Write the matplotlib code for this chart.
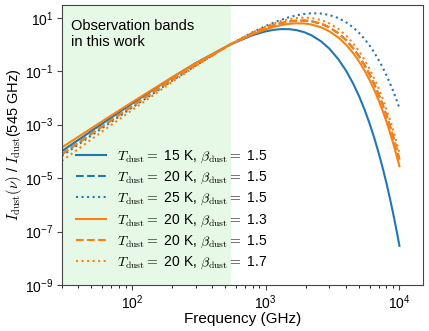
import numpy as np
import matplotlib
matplotlib.use('Agg')
from matplotlib import pyplot as plt

plt.rcParams['mathtext.fontset'] = 'cm'
plt.rcParams['font.family'] = ['Liberation Sans', 'DejaVu Sans']

# frequencies (GHz) and log10 of the normalised intensity
freq = [30, 60, 100, 200, 300, 545, 800, 1000, 1150, 1300, 1500, 1700, 1950, 2200, 2600,
        3000, 3500, 4000, 4500, 5000, 5500, 6000, 6500, 7000, 7500, 8000, 8500, 9000, 9500, 10000]

logI_T15_b15 = [-3.996, -2.964, -2.216, -1.238, -0.700, 0.0, 0.347, 0.489, 0.547, 0.573,
                0.572, 0.537, 0.456, 0.344, 0.115, -0.161, -0.555, -0.988, -1.453, -1.942,
                -2.450, -2.975, -3.513, -4.063, -4.623, -5.192, -5.768, -6.351, -6.940, -7.534]
logI_T20_b15 = [-4.109, -3.071, -2.316, -1.318, -0.759, 0.0, 0.417, 0.617, 0.721, 0.795,
                0.859, 0.890, 0.894, 0.868, 0.776, 0.638, 0.419, 0.159, -0.133, -0.448,
                -0.782, -1.133, -1.498, -1.874, -2.260, -2.655, -3.058, -3.468, -3.883, -4.304]
logI_T25_b15 = [-4.173, -3.132, -2.373, -1.363, -0.792, 0.0, 0.455, 0.688, 0.818, 0.919,
                1.020, 1.089, 1.143, 1.166, 1.156, 1.101, 0.984, 0.828, 0.641, 0.430,
                0.199, -0.047, -0.308, -0.580, -0.862, -1.153, -1.451, -1.756, -2.067, -2.384]
logI_T20_b13 = [-3.857, -2.879, -2.169, -1.231, -0.707, 0.0, 0.383, 0.564, 0.656, 0.719,
                0.771, 0.791, 0.784, 0.746, 0.641, 0.490, 0.257, -0.015, -0.316, -0.640,
                -0.983, -1.342, -1.713, -2.096, -2.488, -2.889, -3.297, -3.711, -4.131, -4.556]
logI_T20_b17 = [-4.361, -3.262, -2.463, -1.405, -0.811, 0.0, 0.450, 0.669, 0.785, 0.870,
                0.947, 0.989, 1.005, 0.989, 0.912, 0.787, 0.580, 0.332, 0.051, -0.255,
                -0.582, -0.925, -1.283, -1.653, -2.033, -2.422, -2.820, -3.224, -3.634, -4.051]

fig = plt.figure(figsize=(4.29, 3.31), dpi=100)
ax = fig.add_axes([0.144, 0.139, 0.842, 0.846])

# observation bands shading
ax.axvspan(20, 545, color='#e6f9e6', zorder=0)

c1 = '#1f77b4'
c2 = '#ff7f0e'
curves = [(logI_T15_b15, c1, '-', '15', '1.5'),
          (logI_T20_b15, c1, '--', '20', '1.5'),
          (logI_T25_b15, c1, ':', '25', '1.5'),
          (logI_T20_b13, c2, '-', '20', '1.3'),
          (logI_T20_b15, c2, '--', '20', '1.5'),
          (logI_T20_b17, c2, ':', '20', '1.7')]
for logI, col, ls, T, b in curves:
    ax.plot(freq, 10**np.array(logI), color=col, ls=ls, lw=1.5,
            label=r'$T_{\rm dust}=$ ' + T + r' K, $\beta_{\rm dust}=$ ' + b)

ax.set_xscale('log')
ax.set_yscale('log')
ax.set_xlim(30, 1.5e4)
ax.set_ylim(1e-9, 30)
ax.set_yticks([1e-9, 1e-7, 1e-5, 1e-3, 1e-1, 1e1])
ax.tick_params(labelsize=10, colors='#444444', labelcolor='black', pad=2.5)
for s in ax.spines.values():
    s.set_color('#444444')

ax.set_xlabel('Frequency (GHz)', fontsize=11, labelpad=0)
ax.set_ylabel(r'$I_{\rm dust}(\nu)$ / $I_{\rm dust}$(545 GHz)', fontsize=10.5, labelpad=1)

ax.text(0.025, 0.95, 'Observation bands\nin this work', transform=ax.transAxes,
        ha='left', va='top', fontsize=10.5, linespacing=1.2)

ax.legend(loc='lower left', frameon=False, fontsize=10,
          handlelength=2.2, handletextpad=0.8, labelspacing=0.35, borderaxespad=0.6)

fig.savefig('out.png', dpi=100)
